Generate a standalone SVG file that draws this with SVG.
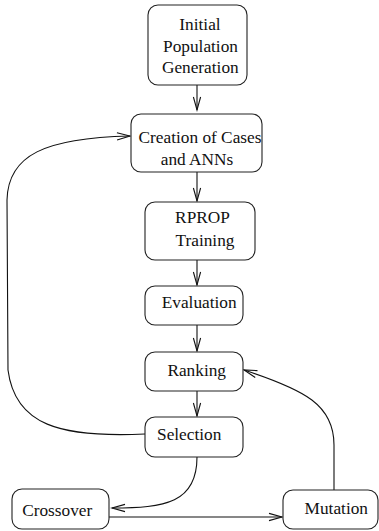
<svg xmlns="http://www.w3.org/2000/svg" width="379" height="531" viewBox="0 0 379 531">
<style>
.box{fill:#fff;stroke:#222;stroke-width:1.1}
.lbl{font-family:"Liberation Serif","Times New Roman",serif;font-size:17.3px;fill:#111;text-anchor:middle}
.edge{fill:none;stroke:#111;stroke-width:1.1}
</style>
<defs>
<marker id="arr" markerUnits="userSpaceOnUse" markerWidth="16" markerHeight="10" viewBox="-14 -5 16 10" refX="0" refY="0" orient="auto">
<path d="M-13,-3.6 L0,0 L-13,3.6" fill="none" stroke="#111" stroke-width="1.1"/>
</marker>
</defs>
<rect width="379" height="531" fill="#fff"/>
<g id="connectors">
<path class="edge" d="M197,85 L197,110" marker-end="url(#arr)"/>
<path class="edge" d="M197,172 L197,201" marker-end="url(#arr)"/>
<path class="edge" d="M197,260 L197,285" marker-end="url(#arr)"/>
<path class="edge" d="M197,325 L197,351" marker-end="url(#arr)"/>
<path class="edge" d="M197,391 L197,416" marker-end="url(#arr)"/>
<path class="edge" d="M197,457 C197,503 165,508 112,508" marker-end="url(#arr)"/>
<path class="edge" d="M109,517 L282,517" marker-end="url(#arr)"/>
<path class="edge" d="M334,490 L334,445 C334,405 305,390 244,370" marker-end="url(#arr)"/>
<path class="edge" d="M145,434 C60,438 15,425 8,370 L7,200 C8,155 45,138 130,136" marker-end="url(#arr)"/>
</g>
<g id="n_initial">
<rect class="box" x="148" y="5" width="99" height="80" rx="10"/>
<text class="lbl" x="200" y="30">Initial</text>
<text class="lbl" x="200.5" y="52">Population</text>
<text class="lbl" x="200.3" y="73">Generation</text>
</g>
<g id="n_creation">
<rect class="box" x="131" y="114" width="131" height="58" rx="10"/>
<text class="lbl" x="200" y="143">Creation of Cases</text>
<text class="lbl" x="197" y="165">and ANNs</text>
</g>
<g id="n_rprop">
<rect class="box" x="145" y="202" width="110" height="58" rx="10"/>
<text class="lbl" x="202.5" y="223">RPROP</text>
<text class="lbl" x="205" y="246">Training</text>
</g>
<g id="n_evaluation">
<rect class="box" x="145" y="286" width="98" height="39" rx="10"/>
<text class="lbl" x="199.2" y="308">Evaluation</text>
</g>
<g id="n_ranking">
<rect class="box" x="145" y="352" width="98" height="39" rx="10"/>
<text class="lbl" x="196.7" y="376">Ranking</text>
</g>
<g id="n_selection">
<rect class="box" x="145" y="417" width="98" height="40" rx="10"/>
<text class="lbl" x="189.2" y="440">Selection</text>
</g>
<g id="n_crossover">
<rect class="box" x="12" y="489" width="97" height="40" rx="10"/>
<text class="lbl" x="57.2" y="516">Crossover</text>
</g>
<g id="n_mutation">
<rect class="box" x="283" y="490" width="95" height="39" rx="10"/>
<text class="lbl" x="336.3" y="514">Mutation</text>
</g>
</svg>
